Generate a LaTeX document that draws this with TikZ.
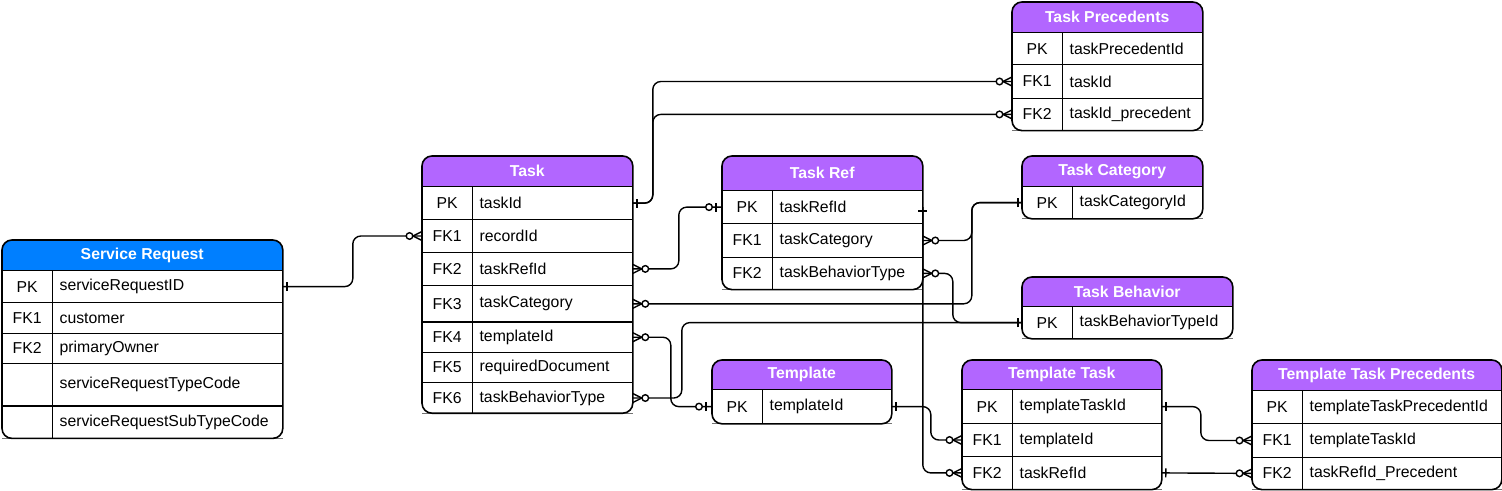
\documentclass[tikz,border=0pt]{standalone}
\usepackage{fontspec}
\setmainfont{Liberation Sans}
\usepackage{tikz}
\usetikzlibrary{backgrounds, decorations.markings}
\definecolor{hdrpurple}{HTML}{B266FF}
\definecolor{hdrblue}{HTML}{007FFF}
\tikzstyle{link} = [line width=1.4pt, rounded corners=8pt]

\begin{document}
\begin{tikzpicture}[x=1pt, y=-1pt,
every node/.style={font=\fontsize{15.8}{19}\selectfont, inner sep=0pt},
tablehead/.style={anchor=north west, text=white, font=\fontsize{15.8}{19}\selectfont\bfseries},
keycell/.style={anchor=north west, minimum width=50pt},
txtcell/.style={anchor=north west, inner xsep=7pt, align=left},
frame/.style={line width=1.6pt, rounded corners=10pt},
grid/.style={line width=1.3pt},
bottomline/.style={line width=1pt, draw=black!55},
onestart/.style={postaction={decorate, decoration={markings, mark=at position 0 with {\draw[sharp corners] (4pt,-4.5pt) -- (4pt,4.5pt);}}}},
oneend/.style={postaction={decorate, decoration={markings, mark=at position 1 with {\draw[sharp corners] (-4pt,-4.5pt) -- (-4pt,4.5pt);}}}},
zoneend/.style={postaction={decorate, decoration={markings, mark=at position 1 with {\draw[sharp corners] (-6pt,-4.5pt) -- (-6pt,4.5pt); \draw[fill=white] (-13pt,0pt) circle (3.3pt);}}}},
manystart/.style={postaction={decorate, decoration={markings, mark=at position 0 with {\draw[sharp corners] (0pt,-4.5pt) -- (9pt,0pt) -- (0pt,4.5pt); \draw[fill=white] (12.5pt,0pt) circle (3.3pt);}}}},
manyend/.style={postaction={decorate, decoration={markings, mark=at position 1 with {\draw[sharp corners] (0pt,-4.5pt) -- (-9pt,0pt) -- (0pt,4.5pt); \draw[fill=white] (-12.5pt,0pt) circle (3.3pt);}}}}]
\useasboundingbox (0,0) rectangle (1502,490);

\node[tablehead, minimum width=280pt, minimum height=30pt] (sr) at (2,240) {Service Request};
\node[keycell, minimum height=32pt] (srPK) at (sr.south west) {PK};
\node[txtcell, text width=216pt, minimum height=32pt] (srPKtxt) at (srPK.north east) {serviceRequestID};
\node[keycell, minimum height=30pt] (srFK1) at (srPK.south west) {FK1};
\node[txtcell, text width=216pt, minimum height=30pt] (srFK1txt) at (srFK1.north east) {customer};
\node[keycell, minimum height=30pt] (srFK2) at (srFK1.south west) {FK2};
\node[txtcell, text width=216pt, minimum height=30pt] (srFK2txt) at (srFK2.north east) {primaryOwner};
\node[keycell, minimum height=42pt] (srC1) at (srFK2.south west) {};
\node[txtcell, text width=216pt, minimum height=42pt] (srC1txt) at (srC1.north east) {serviceRequestTypeCode};
\node[keycell, minimum height=32pt] (srC2) at (srC1.south west) {};
\node[txtcell, text width=216pt, minimum height=32pt] (srC2txt) at (srC2.north east) {serviceRequestSubTypeCode};

\node[tablehead, minimum width=210pt, minimum height=30pt] (task) at (422,156) {Task};
\node[keycell, minimum height=33pt] (taskPK) at (task.south west) {PK};
\node[txtcell, text width=146pt, minimum height=33pt] (taskPKtxt) at (taskPK.north east) {taskId};
\node[keycell, minimum height=32pt] (taskFK1) at (taskPK.south west) {FK1};
\node[txtcell, text width=146pt, minimum height=32pt] (taskFK1txt) at (taskFK1.north east) {recordId};
\node[keycell, minimum height=33pt] (taskFK2) at (taskFK1.south west) {FK2};
\node[txtcell, text width=146pt, minimum height=33pt] (taskFK2txt) at (taskFK2.north east) {taskRefId};
\node[keycell, minimum height=36pt] (taskFK3) at (taskFK2.south west) {FK3};
\node[txtcell, text width=146pt, minimum height=36pt] (taskFK3txt) at (taskFK3.north east) {taskCategory};
\node[keycell, minimum height=30pt] (taskFK4) at (taskFK3.south west) {FK4};
\node[txtcell, text width=146pt, minimum height=30pt] (taskFK4txt) at (taskFK4.north east) {templateId};
\node[keycell, minimum height=30pt] (taskFK5) at (taskFK4.south west) {FK5};
\node[txtcell, text width=146pt, minimum height=30pt] (taskFK5txt) at (taskFK5.north east) {requiredDocument};
\node[keycell, minimum height=30pt] (taskFK6) at (taskFK5.south west) {FK6};
\node[txtcell, text width=146pt, minimum height=30pt] (taskFK6txt) at (taskFK6.north east) {taskBehaviorType};

\node[tablehead, minimum width=190pt, minimum height=30pt] (tp) at (1012,2) {Task Precedents};
\node[keycell, minimum height=32pt] (tpPK) at (tp.south west) {PK};
\node[txtcell, text width=126pt, minimum height=32pt] (tpPKtxt) at (tpPK.north east) {taskPrecedentId};
\node[keycell, minimum height=33pt] (tpFK1) at (tpPK.south west) {FK1};
\node[txtcell, text width=126pt, minimum height=33pt] (tpFK1txt) at (tpFK1.north east) {taskId};
\node[keycell, minimum height=32pt] (tpFK2) at (tpFK1.south west) {FK2};
\node[txtcell, text width=126pt, minimum height=32pt] (tpFK2txt) at (tpFK2.north east) {taskId\_precedent};

\node[tablehead, minimum width=200pt, minimum height=34pt] (tr) at (722,156) {Task Ref};
\node[keycell, minimum height=33pt] (trPK) at (tr.south west) {PK};
\node[txtcell, text width=136pt, minimum height=33pt] (trPKtxt) at (trPK.north east) {taskRefId};
\node[keycell, minimum height=33pt] (trFK1) at (trPK.south west) {FK1};
\node[txtcell, text width=136pt, minimum height=33pt] (trFK1txt) at (trFK1.north east) {taskCategory};
\node[keycell, minimum height=32pt] (trFK2) at (trFK1.south west) {FK2};
\node[txtcell, text width=136pt, minimum height=32pt] (trFK2txt) at (trFK2.north east) {taskBehaviorType};

\node[tablehead, minimum width=180pt, minimum height=30pt] (tc) at (1022,156) {Task Category};
\node[keycell, minimum height=32pt] (tcPK) at (tc.south west) {PK};
\node[txtcell, text width=116pt, minimum height=32pt] (tcPKtxt) at (tcPK.north east) {taskCategoryId};

\node[tablehead, minimum width=210pt, minimum height=29pt] (tb) at (1022,277) {Task Behavior};
\node[keycell, minimum height=32pt] (tbPK) at (tb.south west) {PK};
\node[txtcell, text width=146pt, minimum height=32pt] (tbPKtxt) at (tbPK.north east) {taskBehaviorTypeId};

\node[tablehead, minimum width=179pt, minimum height=29pt] (tm) at (712,360) {Template};
\node[keycell, minimum height=34pt] (tmPK) at (tm.south west) {PK};
\node[txtcell, text width=115pt, minimum height=34pt] (tmPKtxt) at (tmPK.north east) {templateId};

\node[tablehead, minimum width=199pt, minimum height=29pt] (tt) at (962,360) {Template Task};
\node[keycell, minimum height=34pt] (ttPK) at (tt.south west) {PK};
\node[txtcell, text width=135pt, minimum height=34pt] (ttPKtxt) at (ttPK.north east) {templateTaskId};
\node[keycell, minimum height=32pt] (ttFK1) at (ttPK.south west) {FK1};
\node[txtcell, text width=135pt, minimum height=32pt] (ttFK1txt) at (ttFK1.north east) {templateId};
\node[keycell, minimum height=33pt] (ttFK2) at (ttFK1.south west) {FK2};
\node[txtcell, text width=135pt, minimum height=33pt] (ttFK2txt) at (ttFK2.north east) {taskRefId};

\node[tablehead, minimum width=249pt, minimum height=30pt] (ttp) at (1252,360) {Template Task Precedents};
\node[keycell, minimum height=33pt] (ttpPK) at (ttp.south west) {PK};
\node[txtcell, text width=185pt, minimum height=33pt] (ttpPKtxt) at (ttpPK.north east) {templateTaskPrecedentId};
\node[keycell, minimum height=33pt] (ttpFK1) at (ttpPK.south west) {FK1};
\node[txtcell, text width=185pt, minimum height=33pt] (ttpFK1txt) at (ttpFK1.north east) {templateTaskId};
\node[keycell, minimum height=32pt] (ttpFK2) at (ttpFK1.south west) {FK2};
\node[txtcell, text width=185pt, minimum height=32pt] (ttpFK2txt) at (ttpFK2.north east) {taskRefId\_Precedent};

\begin{scope}[on background layer]
\fill[hdrblue, rounded corners=10pt] (sr.north west) rectangle (sr.south east);
\fill[hdrblue] (sr.west) rectangle (sr.south east);
\fill[hdrpurple, rounded corners=10pt] (task.north west) rectangle (task.south east);
\fill[hdrpurple] (task.west) rectangle (task.south east);
\fill[hdrpurple, rounded corners=10pt] (tp.north west) rectangle (tp.south east);
\fill[hdrpurple] (tp.west) rectangle (tp.south east);
\fill[hdrpurple, rounded corners=10pt] (tr.north west) rectangle (tr.south east);
\fill[hdrpurple] (tr.west) rectangle (tr.south east);
\fill[hdrpurple, rounded corners=10pt] (tc.north west) rectangle (tc.south east);
\fill[hdrpurple] (tc.west) rectangle (tc.south east);
\fill[hdrpurple, rounded corners=10pt] (tb.north west) rectangle (tb.south east);
\fill[hdrpurple] (tb.west) rectangle (tb.south east);
\fill[hdrpurple, rounded corners=10pt] (tm.north west) rectangle (tm.south east);
\fill[hdrpurple] (tm.west) rectangle (tm.south east);
\fill[hdrpurple, rounded corners=10pt] (tt.north west) rectangle (tt.south east);
\fill[hdrpurple] (tt.west) rectangle (tt.south east);
\fill[hdrpurple, rounded corners=10pt] (ttp.north west) rectangle (ttp.south east);
\fill[hdrpurple] (ttp.west) rectangle (ttp.south east);
\draw[bottomline] (srC2.south west) -- (srC2txt.south east);
\draw[bottomline] (taskFK6.south west) -- (taskFK6txt.south east);
\draw[bottomline] (tpFK2.south west) -- (tpFK2txt.south east);
\draw[bottomline] (trFK2.south west) -- (trFK2txt.south east);
\draw[bottomline] (tcPK.south west) -- (tcPKtxt.south east);
\draw[bottomline] (tbPK.south west) -- (tbPKtxt.south east);
\draw[bottomline] (tmPK.south west) -- (tmPKtxt.south east);
\draw[bottomline] (ttFK2.south west) -- (ttFK2txt.south east);
\draw[bottomline] (ttpFK2.south west) -- (ttpFK2txt.south east);
\end{scope}

\draw[frame] (sr.north west) rectangle (srC2txt.south east);
\draw[grid] (sr.south west) -- (sr.south east);
\draw[grid] (srPK.south west) -- (srPKtxt.south east);
\draw[grid] (srFK1.south west) -- (srFK1txt.south east);
\draw[grid] (srFK2.south west) -- (srFK2txt.south east);
\draw[grid] (srC1.south west) -- (srC1txt.south east);
\draw[grid] (srPK.north east) -- (srC2.south east);

\draw[frame] (task.north west) rectangle (taskFK6txt.south east);
\draw[grid] (task.south west) -- (task.south east);
\draw[grid] (taskPK.south west) -- (taskPKtxt.south east);
\draw[grid] (taskFK1.south west) -- (taskFK1txt.south east);
\draw[grid] (taskFK2.south west) -- (taskFK2txt.south east);
\draw[grid] (taskFK3.south west) -- (taskFK3txt.south east);
\draw[grid] (taskFK4.south west) -- (taskFK4txt.south east);
\draw[grid] (taskFK5.south west) -- (taskFK5txt.south east);
\draw[grid] (taskPK.north east) -- (taskFK6.south east);

\draw[frame] (tp.north west) rectangle (tpFK2txt.south east);
\draw[grid] (tp.south west) -- (tp.south east);
\draw[grid] (tpPK.south west) -- (tpPKtxt.south east);
\draw[grid] (tpFK1.south west) -- (tpFK1txt.south east);
\draw[grid] (tpPK.north east) -- (tpFK2.south east);

\draw[frame] (tr.north west) rectangle (trFK2txt.south east);
\draw[grid] (tr.south west) -- (tr.south east);
\draw[grid] (trPK.south west) -- (trPKtxt.south east);
\draw[grid] (trFK1.south west) -- (trFK1txt.south east);
\draw[grid] (trPK.north east) -- (trFK2.south east);

\draw[frame] (tc.north west) rectangle (tcPKtxt.south east);
\draw[grid] (tc.south west) -- (tc.south east);
\draw[grid] (tcPK.north east) -- (tcPK.south east);

\draw[frame] (tb.north west) rectangle (tbPKtxt.south east);
\draw[grid] (tb.south west) -- (tb.south east);
\draw[grid] (tbPK.north east) -- (tbPK.south east);

\draw[frame] (tm.north west) rectangle (tmPKtxt.south east);
\draw[grid] (tm.south west) -- (tm.south east);
\draw[grid] (tmPK.north east) -- (tmPK.south east);

\draw[frame] (tt.north west) rectangle (ttFK2txt.south east);
\draw[grid] (tt.south west) -- (tt.south east);
\draw[grid] (ttPK.south west) -- (ttPKtxt.south east);
\draw[grid] (ttFK1.south west) -- (ttFK1txt.south east);
\draw[grid] (ttPK.north east) -- (ttFK2.south east);

\draw[frame] (ttp.north west) rectangle (ttpFK2txt.south east);
\draw[grid] (ttp.south west) -- (ttp.south east);
\draw[grid] (ttpPK.south west) -- (ttpPKtxt.south east);
\draw[grid] (ttpFK1.south west) -- (ttpFK1txt.south east);
\draw[grid] (ttpPK.north east) -- (ttpFK2.south east);

\draw[link, onestart, manyend] (srPKtxt.east) -- ++(70,0) |- (taskFK1.west);
\draw[link, onestart, manyend] (taskPKtxt.east) -- ++(20,0) |- (tpFK1.west);
\draw[link, manyend] (taskPKtxt.east) -- ++(20,0) |- (tpFK2.west);
\draw[link, manystart, zoneend] (taskFK2txt.east) -- ++(46,0) |- (trPK.west);
\draw[link, manystart, oneend] (taskFK3txt.east) -- ++(339,0) |- (tcPK.west);
\draw[link, manystart, oneend] (trFK1txt.east) -- ++(49,0) |- (tcPK.west);
\draw[link, manystart, oneend] (trFK2txt.east) -- ++(30,0) |- (tbPK.west);
\draw[link, manystart, oneend] (taskFK6txt.east) -- ++(49,0) |- (tbPK.west);
\draw[link, manystart, zoneend] (taskFK4txt.east) -- ++(38,0) |- (tmPK.west);
\draw[link, onestart, manyend] (tmPKtxt.east) -- ++(39,0) |- (ttFK1.west);
\draw[link, onestart, manyend] (trPKtxt.east) |- (ttFK2.west);
\draw[link, onestart, manyend] (ttPKtxt.east) -- ++(39,0) |- (ttpFK1.west);
\draw[link, onestart, manyend] (ttFK2txt.east) -- (ttpFK2.west);
\end{tikzpicture}
\end{document}
